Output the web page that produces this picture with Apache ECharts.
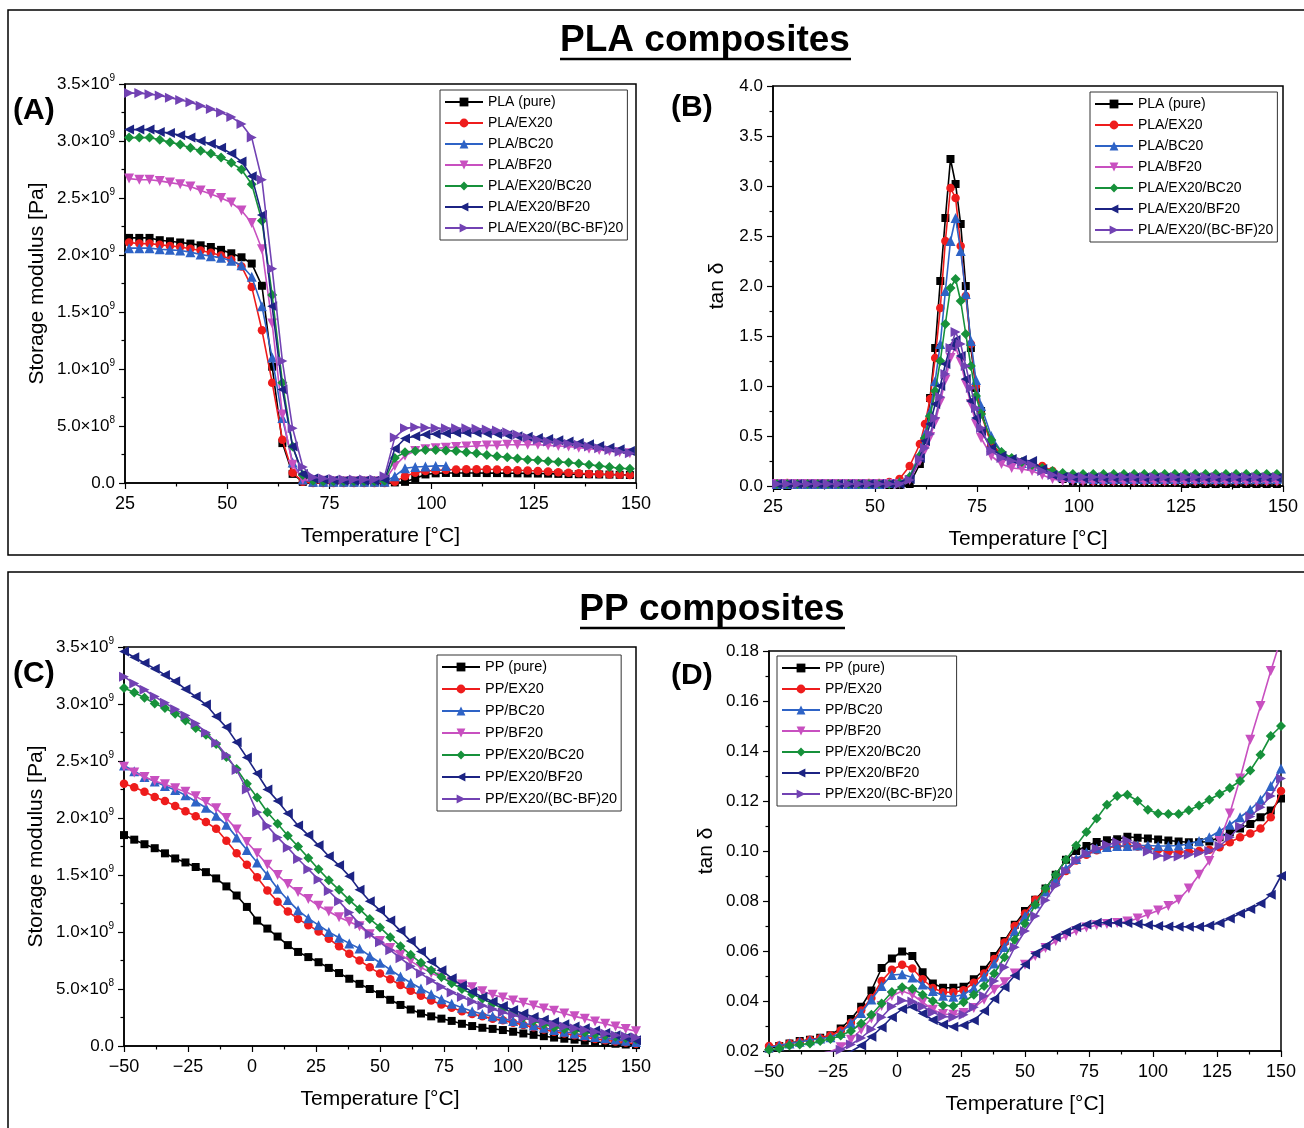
<!DOCTYPE html>
<html><head><meta charset="utf-8">
<script src="https://cdn.jsdelivr.net/npm/echarts@6/dist/echarts.min.js"></script>
<style>html,body{margin:0;padding:0;background:#fff;}#c{width:1304px;height:1128px;}</style>
</head><body><div id="c"></div>
<script>
// ---------- DATA ----------
// Panel A: storage modulus of PLA composites, in units of 1e9 Pa
const TA = [26,28.5,31,33.5,36,38.5,41,43.5,46,48.5,51,53.5,56,58.5,61,63.5,66,68.5,71,73.5,76,78.5,81,83.5,86,88.5,91,93.5,96,98.5,101,103.5,106,108.5,111,113.5,116,118.5,121,123.5,126,128.5,131,133.5,136,138.5,141,143.5,146,148.5];
const A_pure = [2.15,2.15,2.15,2.13,2.12,2.11,2.10,2.085,2.07,2.045,2.015,1.98,1.925,1.73,1.02,0.35,0.08,0.01,0.005,0.005,0.005,0.005,0.005,0.005,0.005,0.005,0.005,0.01,0.04,0.075,0.085,0.088,0.088,0.088,0.088,0.087,0.087,0.086,0.085,0.084,0.083,0.082,0.080,0.078,0.077,0.076,0.075,0.074,0.072,0.07];
const A_ex = [2.11,2.10,2.10,2.09,2.08,2.07,2.055,2.04,2.02,1.995,1.96,1.90,1.72,1.34,0.88,0.38,0.09,0.01,0.0,0.0,0.0,0.0,0.0,0.0,0.0,0.0,0.01,0.06,0.09,0.105,0.11,0.115,0.118,0.12,0.12,0.12,0.118,0.115,0.112,0.11,0.105,0.10,0.095,0.09,0.085,0.08,0.078,0.075,0.072,0.07];
const A_bc = [2.06,2.06,2.06,2.05,2.045,2.04,2.025,2.005,1.99,1.975,1.95,1.91,1.81,1.55,1.10,0.57,0.18,0.03,0.01,0.01,0.01,0.01,0.01,0.01,0.01,0.01,0.06,0.13,0.14,0.145,0.15,0.15];
const A_bf = [2.67,2.66,2.66,2.65,2.635,2.62,2.60,2.565,2.535,2.50,2.46,2.39,2.28,2.05,1.40,0.60,0.16,0.03,0.02,0.02,0.015,0.015,0.015,0.015,0.015,0.02,0.15,0.24,0.28,0.295,0.305,0.31,0.315,0.32,0.325,0.33,0.33,0.335,0.335,0.335,0.335,0.33,0.325,0.32,0.31,0.30,0.29,0.28,0.27,0.26];
const A_exbc = [3.03,3.03,3.03,3.01,2.99,2.97,2.94,2.915,2.89,2.855,2.81,2.75,2.62,2.30,1.65,0.88,0.32,0.07,0.02,0.015,0.015,0.015,0.015,0.015,0.015,0.02,0.22,0.27,0.28,0.29,0.29,0.285,0.28,0.27,0.26,0.245,0.235,0.225,0.215,0.205,0.20,0.19,0.185,0.18,0.17,0.16,0.15,0.14,0.13,0.125];
const A_exbf = [3.10,3.10,3.10,3.08,3.07,3.05,3.03,3.00,2.975,2.94,2.89,2.82,2.69,2.35,1.55,0.82,0.32,0.08,0.04,0.03,0.025,0.02,0.02,0.02,0.02,0.03,0.30,0.39,0.41,0.425,0.43,0.435,0.44,0.44,0.44,0.435,0.43,0.42,0.41,0.405,0.395,0.385,0.375,0.365,0.35,0.34,0.325,0.31,0.295,0.28];
const A_exbcbf = [3.42,3.42,3.41,3.40,3.38,3.36,3.34,3.31,3.28,3.25,3.21,3.15,3.03,2.66,1.88,1.07,0.48,0.14,0.05,0.04,0.035,0.03,0.03,0.03,0.03,0.06,0.40,0.48,0.49,0.485,0.48,0.48,0.48,0.48,0.475,0.47,0.46,0.445,0.425,0.40,0.38,0.365,0.355,0.345,0.335,0.32,0.305,0.29,0.275,0.26];

// Panel B: tan delta of PLA composites
const TB = [26,28.5,31,33.5,36,38.5,41,43.5,46,48.5,51,53.5,56,58.5,61,62.25,63.5,64.75,66,67.25,68.5,69.75,71,72.25,73.5,74.75,76,78.5,81,83.5,86,88.5,91,93.5,96,98.5,101,103.5,106,108.5,111,113.5,116,118.5,121,123.5,126,128.5,131,133.5,136,138.5,141,143.5,146,148.5];
const B_pure = [0.00,0.00,0.01,0.01,0.01,0.01,0.01,0.01,0.01,0.01,0.01,0.01,0.01,0.02,0.22,0.46,0.88,1.38,2.05,2.68,3.27,3.02,2.62,2.00,1.38,0.98,0.75,0.42,0.31,0.26,0.23,0.20,0.17,0.12,0.07,0.05,0.04,0.04,0.03,0.03,0.03,0.03,0.03,0.03,0.03,0.03,0.02,0.02,0.02,0.02,0.02,0.02,0.02,0.02,0.02,0.02];
const B_ex = [0.02,0.03,0.02,0.02,0.02,0.02,0.02,0.02,0.02,0.03,0.03,0.04,0.07,0.20,0.42,0.62,0.87,1.28,1.78,2.45,2.98,2.88,2.40,1.90,1.42,1.00,0.72,0.42,0.32,0.27,0.24,0.22,0.20,0.15,0.09,0.065,0.055,0.05,0.05,0.05,0.05,0.05,0.05,0.05,0.05,0.05,0.05,0.05,0.05,0.05,0.05,0.05,0.05,0.05,0.05,0.05];
const B_bc = [0.02,0.02,0.02,0.02,0.02,0.02,0.02,0.02,0.02,0.02,0.02,0.03,0.04,0.10,0.32,0.52,0.74,1.05,1.42,1.95,2.45,2.68,2.35,1.92,1.45,1.06,0.80,0.50,0.34,0.27,0.23,0.20,0.17,0.12,0.09,0.08,0.075,0.07,0.07,0.07,0.07,0.07,0.07,0.07,0.07,0.07,0.07,0.07,0.07,0.07,0.07,0.07,0.07,0.07,0.07,0.07];
const B_bf = [0.02,0.02,0.02,0.02,0.02,0.02,0.02,0.02,0.02,0.02,0.02,0.02,0.02,0.06,0.25,0.36,0.49,0.64,0.84,1.06,1.28,1.39,1.24,1.02,0.82,0.62,0.48,0.30,0.22,0.18,0.17,0.15,0.11,0.07,0.05,0.05,0.045,0.045,0.045,0.045,0.045,0.045,0.045,0.045,0.045,0.045,0.045,0.045,0.045,0.045,0.045,0.045,0.045,0.045,0.045,0.045];
const B_exbc = [0.02,0.02,0.02,0.02,0.02,0.02,0.02,0.02,0.02,0.02,0.02,0.02,0.03,0.09,0.30,0.48,0.70,0.95,1.25,1.62,1.98,2.07,1.85,1.52,1.20,0.90,0.72,0.46,0.34,0.28,0.24,0.21,0.18,0.15,0.13,0.12,0.12,0.12,0.12,0.12,0.12,0.12,0.12,0.12,0.12,0.12,0.12,0.12,0.12,0.12,0.12,0.12,0.12,0.12,0.12,0.12];
const B_exbf = [0.02,0.02,0.02,0.02,0.02,0.02,0.02,0.02,0.02,0.02,0.02,0.02,0.02,0.07,0.28,0.45,0.62,0.82,1.00,1.22,1.40,1.46,1.30,1.07,0.85,0.68,0.55,0.38,0.30,0.27,0.26,0.25,0.17,0.11,0.09,0.085,0.08,0.08,0.08,0.08,0.08,0.08,0.08,0.08,0.08,0.08,0.08,0.08,0.08,0.08,0.08,0.08,0.08,0.08,0.08,0.08];
const B_exbcbf = [0.02,0.02,0.02,0.02,0.02,0.02,0.02,0.02,0.02,0.02,0.02,0.02,0.02,0.06,0.27,0.38,0.52,0.68,0.89,1.12,1.38,1.54,1.42,1.20,0.98,0.78,0.58,0.35,0.28,0.25,0.24,0.21,0.15,0.11,0.09,0.09,0.09,0.09,0.09,0.09,0.09,0.09,0.09,0.09,0.09,0.09,0.09,0.09,0.09,0.09,0.09,0.09,0.09,0.09,0.09,0.09];

// Panel C: storage modulus of PP composites, in units of 1e9 Pa
const TC = [-50,-46,-42,-38,-34,-30,-26,-22,-18,-14,-10,-6,-2,2,6,10,14,18,22,26,30,34,38,42,46,50,54,58,62,66,70,74,78,82,86,90,94,98,102,106,110,114,118,122,126,130,134,138,142,146,150];
const C_pure = [1.85,1.81,1.77,1.735,1.69,1.645,1.61,1.57,1.525,1.47,1.40,1.32,1.22,1.10,1.03,0.96,0.885,0.825,0.78,0.735,0.685,0.64,0.59,0.545,0.50,0.455,0.405,0.36,0.32,0.285,0.26,0.24,0.22,0.195,0.175,0.16,0.15,0.14,0.125,0.11,0.098,0.086,0.074,0.064,0.056,0.045,0.037,0.028,0.02,0.013,0.008];
const C_ex = [2.30,2.27,2.23,2.185,2.15,2.105,2.06,2.015,1.965,1.905,1.80,1.69,1.59,1.48,1.365,1.265,1.18,1.115,1.06,1.005,0.94,0.875,0.81,0.75,0.69,0.635,0.585,0.535,0.485,0.44,0.40,0.365,0.335,0.305,0.28,0.26,0.24,0.225,0.205,0.185,0.165,0.145,0.125,0.11,0.095,0.078,0.062,0.05,0.04,0.03,0.02];
const C_bc = [2.46,2.41,2.36,2.32,2.28,2.245,2.20,2.145,2.09,2.02,1.94,1.83,1.72,1.61,1.50,1.38,1.28,1.19,1.12,1.06,1.00,0.95,0.90,0.855,0.79,0.73,0.67,0.61,0.555,0.505,0.455,0.41,0.37,0.335,0.305,0.28,0.26,0.24,0.22,0.20,0.18,0.16,0.14,0.125,0.11,0.095,0.08,0.068,0.056,0.045,0.035];
const C_bf = [2.45,2.40,2.36,2.325,2.295,2.26,2.23,2.19,2.14,2.085,2.00,1.90,1.79,1.69,1.59,1.50,1.42,1.35,1.29,1.23,1.18,1.13,1.09,1.05,0.98,0.92,0.86,0.80,0.745,0.69,0.64,0.60,0.565,0.54,0.515,0.48,0.45,0.425,0.40,0.38,0.355,0.33,0.31,0.285,0.26,0.24,0.215,0.195,0.17,0.15,0.13];
const C_exbc = [3.14,3.10,3.055,3.005,2.965,2.915,2.855,2.79,2.73,2.65,2.535,2.43,2.30,2.18,2.05,1.95,1.845,1.75,1.65,1.55,1.455,1.37,1.28,1.20,1.115,1.04,0.955,0.875,0.80,0.73,0.665,0.605,0.55,0.50,0.455,0.415,0.37,0.33,0.29,0.25,0.22,0.19,0.165,0.15,0.135,0.12,0.105,0.093,0.082,0.07,0.06];
const C_exbf = [3.46,3.41,3.36,3.31,3.255,3.20,3.13,3.065,2.995,2.89,2.795,2.665,2.53,2.39,2.25,2.15,2.04,1.935,1.85,1.76,1.665,1.585,1.49,1.37,1.27,1.19,1.10,1.01,0.92,0.83,0.74,0.665,0.595,0.53,0.475,0.43,0.39,0.35,0.315,0.285,0.255,0.23,0.21,0.19,0.17,0.155,0.135,0.115,0.095,0.075,0.05];
const C_exbcbf = [3.24,3.18,3.125,3.065,3.01,2.955,2.90,2.83,2.75,2.66,2.55,2.42,2.25,2.05,1.93,1.83,1.74,1.64,1.55,1.46,1.36,1.27,1.17,1.07,0.98,0.91,0.84,0.77,0.70,0.635,0.575,0.52,0.47,0.43,0.39,0.355,0.325,0.295,0.27,0.245,0.225,0.205,0.185,0.17,0.155,0.14,0.125,0.11,0.095,0.085,0.075];

// Panel D: tan delta of PP composites
const TD = [-50,-46,-42,-38,-34,-30,-26,-22,-18,-14,-10,-6,-2,2,6,10,14,18,22,26,30,34,38,42,46,50,54,58,62,66,70,74,78,82,86,90,94,98,102,106,110,114,118,122,126,130,134,138,142,146,150];
const D_pure = [0.021,0.022,0.023,0.024,0.0245,0.0253,0.0263,0.029,0.0328,0.0377,0.0442,0.0532,0.057,0.0598,0.058,0.0515,0.047,0.0453,0.0453,0.0457,0.0487,0.0525,0.058,0.064,0.0705,0.076,0.0805,0.085,0.0905,0.0965,0.1,0.102,0.1036,0.1043,0.1047,0.1057,0.1053,0.105,0.1046,0.1042,0.1038,0.1035,0.1035,0.1038,0.1055,0.1075,0.109,0.1108,0.1135,0.1162,0.121];
const D_ex = [0.022,0.0222,0.023,0.0237,0.0245,0.0251,0.0262,0.0282,0.0313,0.0362,0.0412,0.048,0.0525,0.0545,0.053,0.0487,0.0452,0.0435,0.0435,0.0443,0.0473,0.051,0.0568,0.0634,0.07,0.075,0.0805,0.084,0.0878,0.092,0.0962,0.0985,0.1003,0.1013,0.1018,0.102,0.1018,0.1012,0.1005,0.0997,0.0995,0.0997,0.1,0.1005,0.1015,0.1035,0.1055,0.107,0.109,0.1135,0.124];
const D_bc = [0.0215,0.0222,0.023,0.0237,0.0243,0.025,0.0255,0.0272,0.0311,0.0352,0.0406,0.046,0.0504,0.0507,0.0494,0.0466,0.044,0.0421,0.0417,0.0426,0.0452,0.0497,0.055,0.0616,0.068,0.074,0.079,0.0838,0.0885,0.093,0.0968,0.0995,0.101,0.1016,0.102,0.102,0.1022,0.1022,0.102,0.102,0.1022,0.1028,0.104,0.1055,0.108,0.1105,0.1135,0.1165,0.1205,0.126,0.133];
const D_bf = [0.016,0.0165,0.017,0.0175,0.018,0.019,0.0198,0.0215,0.0245,0.0285,0.033,0.038,0.042,0.044,0.0425,0.0395,0.0365,0.0348,0.0345,0.0352,0.0372,0.0405,0.0445,0.0475,0.051,0.0545,0.058,0.0612,0.064,0.066,0.068,0.0694,0.0703,0.0708,0.0712,0.0718,0.073,0.0746,0.0762,0.078,0.0805,0.085,0.0905,0.096,0.104,0.115,0.129,0.1445,0.158,0.172,0.185];
const D_exbc = [0.0205,0.021,0.0222,0.0226,0.023,0.024,0.0248,0.0262,0.028,0.031,0.0345,0.039,0.0436,0.0455,0.0449,0.0425,0.04,0.0383,0.038,0.0395,0.0425,0.046,0.051,0.0575,0.0645,0.071,0.0785,0.085,0.0905,0.0965,0.1022,0.1076,0.113,0.1185,0.122,0.1225,0.12,0.1165,0.115,0.1148,0.1148,0.1163,0.1182,0.1205,0.1228,0.1252,0.128,0.1322,0.1385,0.146,0.15];
const D_exbf = [0.015,0.0155,0.016,0.0165,0.017,0.0175,0.018,0.0188,0.0198,0.0222,0.0257,0.0294,0.0335,0.0368,0.0377,0.035,0.0324,0.0306,0.0297,0.0303,0.0322,0.036,0.0408,0.0455,0.0502,0.0546,0.059,0.062,0.0655,0.0676,0.0695,0.0706,0.0713,0.0713,0.0713,0.0712,0.0708,0.0704,0.07,0.0698,0.0697,0.0697,0.0697,0.0702,0.0712,0.073,0.075,0.0768,0.079,0.0825,0.09];
const D_exbcbf = [0.016,0.0165,0.017,0.0175,0.0182,0.019,0.0197,0.0205,0.0226,0.0252,0.0287,0.0335,0.0378,0.0402,0.0398,0.0378,0.0355,0.0338,0.0335,0.0345,0.0375,0.042,0.048,0.0535,0.0615,0.068,0.074,0.0803,0.0862,0.092,0.096,0.099,0.101,0.1025,0.1035,0.1042,0.1022,0.0998,0.0982,0.0977,0.0978,0.0985,0.0992,0.1,0.102,0.1055,0.1098,0.1138,0.1175,0.122,0.129];

const PLA_NAMES = ['PLA (pure)','PLA/EX20','PLA/BC20','PLA/BF20','PLA/EX20/BC20','PLA/EX20/BF20','PLA/EX20/(BC-BF)20'];
const PP_NAMES = ['PP (pure)','PP/EX20','PP/BC20','PP/BF20','PP/EX20/BC20','PP/EX20/BF20','PP/EX20/(BC-BF)20'];

// ---------- STYLE ----------
const FONT = "'Liberation Sans', Arial, sans-serif";
const STY = [
  {color:'#000000', symbol:'rect', rot:0, size:8},
  {color:'#ee1c1c', symbol:'circle', rot:0, size:8.5},
  {color:'#2e63c6', symbol:'triangle', rot:0, size:10},
  {color:'#c850c0', symbol:'triangle', rot:180, size:10},
  {color:'#17913b', symbol:'diamond', rot:0, size:10},
  {color:'#1c2383', symbol:'triangle', rot:90, size:10},
  {color:'#7242b3', symbol:'triangle', rot:-90, size:10}
];

function mk(name, T, vals, k, gi) {
  const data = [];
  for (let i = 0; i < T.length; i++) if (vals[i] != null) data.push([T[i], vals[i]]);
  const s = STY[k];
  return {type:'line', name, xAxisIndex:gi, yAxisIndex:gi, data,
    symbol:s.symbol, symbolRotate:s.rot, symbolSize:s.size, showSymbol:true, showAllSymbol:true,
    lineStyle:{color:s.color, width:1.6}, itemStyle:{color:s.color},
    emphasis:{disabled:true}, animation:false, clip:true, z:2+k};
}

const panels = [
  {T:TA, v:[A_pure,A_ex,A_bc,A_bf,A_exbc,A_exbf,A_exbcbf], names:PLA_NAMES},
  {T:TB, v:[B_pure,B_ex,B_bc,B_bf,B_exbc,B_exbf,B_exbcbf], names:PLA_NAMES},
  {T:TC, v:[C_pure,C_ex,C_bc,C_bf,C_exbc,C_exbf,C_exbcbf], names:PP_NAMES},
  {T:TD, v:[D_pure,D_ex,D_bc,D_bf,D_exbc,D_exbf,D_exbcbf], names:PP_NAMES}
];
const series = [];
panels.forEach((p, gi) => p.v.forEach((vals, k) => series.push(mk(p.names[k], p.T, vals, k, gi))));

const grids = [
  {left:125, top:84, width:511, height:399},
  {left:773, top:86, width:510, height:400},
  {left:124, top:647, width:512, height:399},
  {left:769, top:651, width:512, height:400}
].map(g => Object.assign(g, {show:true, borderColor:'#000', borderWidth:1.5, containLabel:false}));

function sci(v) {
  if (Math.abs(v) < 1e-9) return '{m|0.0}';
  if (v < 0.999) return '{m|' + (v * 10).toFixed(1) + '×10}{s|8}';
  return '{m|' + v.toFixed(1) + '×10}{s|9}';
}
const rich = {m:{fontSize:17, fontFamily:FONT, color:'#000'}, s:{fontSize:10, fontFamily:FONT, color:'#000', padding:[0,0,11,0]}};
function tempLabel(v) { return v < 0 ? '\u2212' + (-v) : String(v); }

function axisBase(gi) {
  return {gridIndex:gi, type:'value',
    axisLine:{show:true, onZero:false, lineStyle:{color:'#000', width:1.5}},
    axisTick:{show:true, inside:false, length:6, lineStyle:{color:'#000', width:1.2}},
    minorTick:{show:true, splitNumber:2, length:3.5, lineStyle:{color:'#000', width:1.2}},
    splitLine:{show:false}, minorSplitLine:{show:false},
    nameLocation:'middle', nameTextStyle:{fontSize:21, fontFamily:FONT, color:'#000'}};
}
const xAxes = [
  {min:25, max:150}, {min:25, max:150}, {min:-50, max:150}, {min:-50, max:150}
].map((a, gi) => Object.assign(axisBase(gi), a, {interval:25, name:'Temperature [°C]', nameGap:43,
  axisLabel:{fontSize:18, fontFamily:FONT, color:'#000', margin:12, formatter:tempLabel}}));
const yAxes = [
  Object.assign(axisBase(0), {min:0, max:3.5, interval:0.5, name:'Storage modulus [Pa]', nameGap:77,
    axisLabel:{margin:10, formatter:sci, rich}}),
  Object.assign(axisBase(1), {min:0, max:4, interval:0.5, name:'tan δ', nameGap:45,
    axisLabel:{fontSize:17, fontFamily:FONT, color:'#000', margin:10, formatter:v => v.toFixed(1)}}),
  Object.assign(axisBase(2), {min:0, max:3.5, interval:0.5, name:'Storage modulus [Pa]', nameGap:77,
    axisLabel:{margin:10, formatter:sci, rich}}),
  Object.assign(axisBase(3), {min:0.02, max:0.18, interval:0.02, name:'tan δ', nameGap:52,
    axisLabel:{fontSize:17, fontFamily:FONT, color:'#000', margin:10, formatter:v => v.toFixed(2)}})
];

function legend(left, top, names, gap, fs) {
  return {left, top, orient:'vertical', data:names, selectedMode:false,
    itemWidth:38, itemHeight:11, itemGap:gap, padding:[4,4,4,4],
    borderColor:'#333', borderWidth:1, backgroundColor:'#fff', z:20,
    textStyle:{fontSize:fs, fontFamily:FONT, color:'#000', lineHeight:16}};
}

const graphic = [
  {type:'rect', silent:true, shape:{x:8, y:10, width:1300, height:545}, style:{fill:'none', stroke:'#000', lineWidth:1.5}},
  {type:'rect', silent:true, shape:{x:8, y:572, width:1300, height:600}, style:{fill:'none', stroke:'#000', lineWidth:1.5}},
  {type:'text', silent:true, x:705, y:41, style:{text:'PLA composites', font:'bold 37px ' + FONT, align:'center', verticalAlign:'middle', fill:'#000'}},
  {type:'line', silent:true, shape:{x1:560, y1:59, x2:851, y2:59}, style:{stroke:'#000', lineWidth:2.5}},
  {type:'text', silent:true, x:712, y:610, style:{text:'PP composites', font:'bold 37px ' + FONT, align:'center', verticalAlign:'middle', fill:'#000'}},
  {type:'line', silent:true, shape:{x1:580, y1:628, x2:845, y2:628}, style:{stroke:'#000', lineWidth:2.5}},
  {type:'text', silent:true, x:13, y:111, style:{text:'(A)', font:'bold 30px ' + FONT, align:'left', verticalAlign:'middle', fill:'#000'}},
  {type:'text', silent:true, x:671, y:108, style:{text:'(B)', font:'bold 30px ' + FONT, align:'left', verticalAlign:'middle', fill:'#000'}},
  {type:'text', silent:true, x:13, y:674, style:{text:'(C)', font:'bold 30px ' + FONT, align:'left', verticalAlign:'middle', fill:'#000'}},
  {type:'text', silent:true, x:671, y:676, style:{text:'(D)', font:'bold 30px ' + FONT, align:'left', verticalAlign:'middle', fill:'#000'}}
];

const chart = echarts.init(document.getElementById('c'), null, {renderer:'canvas', width:1304, height:1128});
chart.setOption({
  animation:false,
  backgroundColor:'#fff',
  textStyle:{fontFamily:FONT},
  grid:grids, xAxis:xAxes, yAxis:yAxes,
  legend:[
    legend(440, 90, PLA_NAMES, 5, 14),
    legend(1090, 92, PLA_NAMES, 5, 14),
    legend(437, 655, PP_NAMES, 6, 14.5),
    legend(777, 656, PP_NAMES, 5, 14)
  ],
  graphic, series
});
</script></body></html>
